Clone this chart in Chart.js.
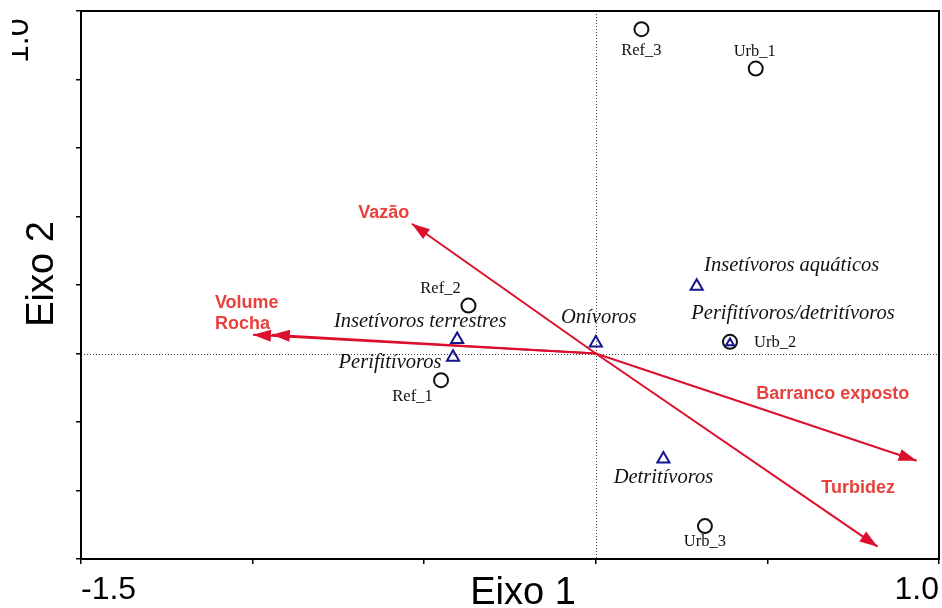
<!DOCTYPE html>
<html lang="pt">
<head>
<meta charset="utf-8">
<title>Eixo 1 × Eixo 2</title>
<script src="https://cdn.jsdelivr.net/npm/chart.js@4/dist/chart.umd.min.js"></script>
<style>
  html, body { margin: 0; padding: 0; background: #fff; overflow: hidden; }
  #wrap { position: relative; width: 942px; height: 608px; }
  #chart { display: block; }
</style>
</head>
<body>
<div id="wrap"><canvas id="chart"></canvas></div>
<script>
// Sites (circles)
const siteNames = ['Ref_1', 'Ref_2', 'Ref_3', 'Urb_1', 'Urb_2', 'Urb_3'];
const siteAxis1 = [-0.451, -0.371, 0.133, 0.466, 0.391, 0.318];
const siteAxis2 = [-0.078, 0.140, 0.947, 0.832, 0.034, -0.504];

// Trophic guilds (triangles)
const guildNames = ['Insetívoros aquáticos', 'Perifitívoros/detritívoros', 'Onívoros',
                    'Insetívoros terrestres', 'Perifitívoros', 'Detritívoros'];
const guildAxis1 = [0.294, 0.391, 0.000, -0.404, -0.416, 0.197];
const guildAxis2 = [0.196, 0.031, 0.031, 0.041, -0.011, -0.308];

// Environmental variables (arrows from the origin)
const envNames = ['Vazão', 'Volume', 'Rocha', 'Barranco exposto', 'Turbidez'];
const envAxis1 = [-0.536, -0.999, -0.944, 0.935, 0.821];
const envAxis2 = [0.379, 0.055, 0.055, -0.313, -0.564];

// Axis tick labels that are printed
const xTickLabels = [-1.5, 1.0];
const yTickLabels = [1.0];

// ---- styling ----
const SANS = '"Liberation Sans", Arial, sans-serif';
const SERIF = '"Liberation Serif", "Times New Roman", serif';
const ARROW_RED = '#dc0f2d';
const LABEL_RED = '#e8413e';
const NAVY = '#14148c';

// label offsets in pixels from each mark
const siteLabelPos = {
  'Ref_1': { dx: -28.5, dy: 20.5 },
  'Ref_2': { dx: -28, dy: -13 },
  'Ref_3': { dx: 0, dy: 26 },
  'Urb_1': { dx: -1, dy: -13 },
  'Urb_2': { dx: 24, dy: 5.5, align: 'left' },
  'Urb_3': { dx: 0, dy: 20 }
};
const guildLabelPos = {
  'Insetívoros aquáticos': { dx: 95, dy: -15.5 },
  'Perifitívoros/detritívoros': { dx: 63, dy: -23.6 },
  'Onívoros': { dx: 3, dy: -19.6 },
  'Insetívoros terrestres': { dx: -37, dy: -12.8 },
  'Perifitívoros': { dx: -63, dy: 11 },
  'Detritívoros': { dx: 0, dy: 24.3 }
};
const envLabelPos = {
  'Vazão': { dx: -28, dy: -6 },
  'Volume': { dx: -38, dy: -26.4, align: 'left' },
  'Rocha': { dx: -56.7, dy: -5.7, align: 'left' },
  'Barranco exposto': { dx: -84, dy: -61.4 },
  'Turbidez': { dx: -19.5, dy: -53.4 }
};

const siteData = siteNames.map((n, i) => ({ x: siteAxis1[i], y: siteAxis2[i] }));
const guildData = guildNames.map((n, i) => ({ x: guildAxis1[i], y: guildAxis2[i] }));
const guildRadius = guildNames.map(n => n === 'Perifitívoros/detritívoros' ? 4.5 : 7);

const arrowSets = envNames.map((n, i) => ({
  label: n,
  isArrow: true,
  data: [{ x: 0, y: 0 }, { x: envAxis1[i], y: envAxis2[i] }],
  showLine: true,
  borderColor: ARROW_RED,
  borderWidth: 2,
  pointRadius: 0,
  order: 2
}));

// dotted reference lines through the origin, frame box, arrow heads and all text
const decorations = {
  id: 'decorations',
  beforeDatasetsDraw(chart) {
    const { ctx, chartArea: a, scales: { x, y } } = chart;
    const x0 = Math.round(x.getPixelForValue(0)) + 0.5;
    const y0 = Math.round(y.getPixelForValue(0)) + 0.5;
    ctx.save();
    ctx.strokeStyle = '#444';
    ctx.lineWidth = 1;
    ctx.setLineDash([1, 2]);
    ctx.beginPath();
    ctx.moveTo(x0, a.top); ctx.lineTo(x0, a.bottom);
    ctx.moveTo(a.left, y0); ctx.lineTo(a.right, y0);
    ctx.stroke();
    ctx.restore();
  },
  afterDatasetsDraw(chart) {
    const { ctx, chartArea: a } = chart;
    ctx.save();
    // frame
    ctx.strokeStyle = '#000';
    ctx.lineWidth = 2;
    ctx.strokeRect(a.left, a.top, a.right - a.left, a.bottom - a.top);

    // arrow heads + variable names
    chart.data.datasets.forEach((ds, di) => {
      if (!ds.isArrow) return;
      const pts = chart.getDatasetMeta(di).data;
      const p0 = pts[0], p1 = pts[1];
      const ang = Math.atan2(p1.y - p0.y, p1.x - p0.x);
      const L = 18, W = 6;
      ctx.fillStyle = ARROW_RED;
      ctx.beginPath();
      ctx.moveTo(p1.x, p1.y);
      ctx.lineTo(p1.x - L * Math.cos(ang) + W * Math.sin(ang), p1.y - L * Math.sin(ang) - W * Math.cos(ang));
      ctx.lineTo(p1.x - L * Math.cos(ang) - W * Math.sin(ang), p1.y - L * Math.sin(ang) + W * Math.cos(ang));
      ctx.closePath();
      ctx.fill();
      const pos = envLabelPos[ds.label];
      ctx.font = 'bold 18px ' + SANS;
      ctx.fillStyle = LABEL_RED;
      ctx.textAlign = pos.align || 'center';
      ctx.textBaseline = 'alphabetic';
      ctx.fillText(ds.label, p1.x + pos.dx, p1.y + pos.dy);
    });

    // site names
    const siteMeta = chart.getDatasetMeta(chart.data.datasets.findIndex(d => d.label === 'Sites'));
    ctx.font = '16.5px ' + SERIF;
    ctx.fillStyle = '#111';
    siteMeta.data.forEach((p, i) => {
      const pos = siteLabelPos[siteNames[i]];
      ctx.textAlign = pos.align || 'center';
      ctx.fillText(siteNames[i], p.x + pos.dx, p.y + pos.dy);
    });

    // guild names
    const guildMeta = chart.getDatasetMeta(chart.data.datasets.findIndex(d => d.label === 'Guildas'));
    ctx.font = 'italic 20.5px ' + SERIF;
    ctx.fillStyle = '#111';
    guildMeta.data.forEach((p, i) => {
      const pos = guildLabelPos[guildNames[i]];
      ctx.textAlign = pos.align || 'center';
      ctx.fillText(guildNames[i], p.x + pos.dx, p.y + pos.dy);
    });
    ctx.restore();
  },
  afterDraw(chart) {
    const { ctx, chartArea: a, scales: { y } } = chart;
    ctx.save();
    ctx.fillStyle = '#000';
    // vertical-axis value, rotated, partly hidden at the page edge
    ctx.beginPath();
    ctx.rect(12, 0, a.left, a.bottom);
    ctx.clip();
    ctx.font = '32px ' + SANS;
    yTickLabels.forEach(v => {
      ctx.save();
      ctx.translate(28, y.getPixelForValue(v) + 52);
      ctx.rotate(-Math.PI / 2);
      ctx.textAlign = 'left';
      ctx.textBaseline = 'alphabetic';
      ctx.fillText(v.toFixed(1), 0, 0);
      ctx.restore();
    });
    ctx.restore();

    // axis titles
    ctx.save();
    ctx.fillStyle = '#000';
    ctx.font = '38px ' + SANS;
    ctx.textAlign = 'center';
    ctx.textBaseline = 'alphabetic';
    ctx.fillText('Eixo 1', 523, 604);
    ctx.translate(53, 274);
    ctx.rotate(-Math.PI / 2);
    ctx.fillText('Eixo 2', 0, 0);
    ctx.restore();
  }
};

new Chart(document.getElementById('chart'), {
  type: 'scatter',
  data: {
    datasets: [
      {
        label: 'Sites',
        data: siteData,
        pointStyle: 'circle',
        pointRadius: 7,
        borderColor: '#111',
        backgroundColor: 'rgba(0,0,0,0)',
        borderWidth: 2,
        order: 1
      },
      {
        label: 'Guildas',
        data: guildData,
        pointStyle: 'triangle',
        pointRadius: guildRadius,
        borderColor: NAVY,
        backgroundColor: 'rgba(0,0,0,0)',
        borderWidth: 2,
        order: 0
      },
      ...arrowSets
    ]
  },
  options: {
    responsive: true,
    maintainAspectRatio: false,
    animation: false,
    devicePixelRatio: 1,
    layout: { autoPadding: false, padding: { top: 11, right: 3, left: 0, bottom: 0 } },
    plugins: { legend: { display: false }, tooltip: { enabled: false } },
    scales: {
      x: {
        type: 'linear',
        min: -1.5,
        max: 1.0,
        afterFit(scale) { scale.height = 49; scale.paddingLeft = 0; scale.paddingRight = 0; },
        border: { display: false },
        grid: { display: true, drawOnChartArea: false, drawTicks: true, tickLength: 5, color: '#000', lineWidth: 1.5 },
        ticks: {
          stepSize: 0.5,
          align: 'inner',
          padding: 7,
          maxRotation: 0,
          autoSkip: false,
          color: '#000',
          font: { family: SANS, size: 32 },
          callback: (v) => xTickLabels.some(t => Math.abs(t - v) < 1e-6) ? Number(v).toFixed(1) : ''
        }
      },
      y: {
        type: 'linear',
        min: -0.6,
        max: 1.0,
        afterFit(scale) { scale.width = 81; scale.paddingTop = 0; scale.paddingBottom = 0; },
        border: { display: false },
        grid: { display: true, drawOnChartArea: false, drawTicks: true, tickLength: 5, color: '#000', lineWidth: 1.5 },
        ticks: { stepSize: 0.2, display: false }
      }
    }
  },
  plugins: [decorations]
});
</script>
</body>
</html>
